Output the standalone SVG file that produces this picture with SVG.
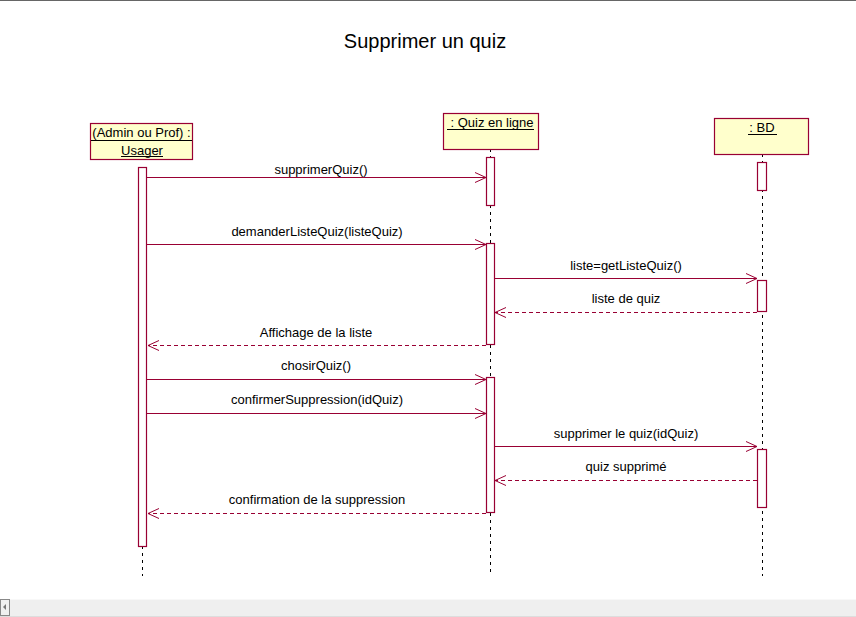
<svg xmlns="http://www.w3.org/2000/svg" width="856" height="617" viewBox="0 0 856 617">
<defs>
<marker id="arr" markerWidth="14" markerHeight="12" refX="12" refY="6" orient="auto" markerUnits="userSpaceOnUse">
<path d="M1,1 L12,6 L1,11" fill="none" stroke="#990033" stroke-width="1"/>
</marker>
</defs>
<style>
.box{fill:#ffffcc;stroke:#990033;stroke-width:1.2}
.act{fill:#ffffff;stroke:#990033;stroke-width:1.2}
.life{stroke:#000;stroke-width:1;stroke-dasharray:3,4}
.msg{stroke:#990033;stroke-width:1;fill:none}
.ret{stroke:#990033;stroke-width:1;fill:none;stroke-dasharray:4,3}
.t{font-family:"Liberation Sans",Arial,sans-serif;font-size:13px;fill:#000}
.ul{stroke:#000;stroke-width:1}
</style>
<rect width="856" height="617" fill="#ffffff"/>
<line x1="0" y1="0.5" x2="856" y2="0.5" stroke="#666" stroke-width="1"/>
<text x="425" y="48" text-anchor="middle" font-family="Liberation Sans,Arial,sans-serif" font-size="20">Supprimer un quiz</text>

<g id="lifelines">
<line class="life" x1="142.5" y1="546" x2="142.5" y2="576"/>
<line class="life" x1="490.5" y1="149" x2="490.5" y2="576"/>
<line class="life" x1="762.5" y1="154" x2="762.5" y2="576"/>
</g>

<g id="usager">
<rect class="box" x="90.5" y="123.5" width="102" height="36"/>
<text class="t" x="141.5" y="137" text-anchor="middle">(Admin ou Prof) :</text>
<line class="ul" x1="91" y1="140.5" x2="192" y2="140.5"/>
<text class="t" x="142" y="155" text-anchor="middle">Usager</text>
<line class="ul" x1="121" y1="156.5" x2="163" y2="156.5"/>
<rect class="act" x="138.5" y="167.5" width="8" height="379"/>
</g>

<g id="quiz">
<rect class="box" x="443.5" y="113.5" width="95" height="36"/>
<text class="t" x="492" y="127" text-anchor="middle"> : Quiz en ligne</text>
<line class="ul" x1="447" y1="129.5" x2="534" y2="129.5"/>
<rect class="act" x="486.5" y="157.5" width="8" height="48"/>
<rect class="act" x="486.5" y="243.5" width="8" height="101"/>
<rect class="act" x="486.5" y="377.5" width="8" height="135"/>
</g>

<g id="bd">
<rect class="box" x="714.5" y="118.5" width="94" height="36"/>
<text class="t" x="762" y="132" text-anchor="middle">: BD</text>
<line class="ul" x1="748" y1="134.5" x2="777" y2="134.5"/>
<rect class="act" x="757.5" y="162.5" width="9" height="28"/>
<rect class="act" x="757.5" y="280.5" width="9" height="31"/>
<rect class="act" x="757.5" y="449.5" width="9" height="58"/>
</g>

<g id="connectors">
<line class="msg" x1="147" y1="177.5" x2="486" y2="177.5" marker-end="url(#arr)"/>
<text class="t" x="321" y="174" text-anchor="middle">supprimerQuiz()</text>
<line class="msg" x1="147" y1="244.5" x2="486" y2="244.5" marker-end="url(#arr)"/>
<text class="t" x="317" y="236" text-anchor="middle">demanderListeQuiz(listeQuiz)</text>
<line class="msg" x1="495" y1="278.5" x2="757" y2="278.5" marker-end="url(#arr)"/>
<text class="t" x="626" y="270" text-anchor="middle">liste=getListeQuiz()</text>
<line class="ret" x1="757" y1="312.5" x2="495" y2="312.5" marker-end="url(#arr)"/>
<text class="t" x="626" y="303" text-anchor="middle">liste de quiz</text>
<line class="ret" x1="486" y1="345.5" x2="148" y2="345.5" marker-end="url(#arr)"/>
<text class="t" x="316" y="337" text-anchor="middle">Affichage de la liste</text>
<line class="msg" x1="147" y1="379.5" x2="486" y2="379.5" marker-end="url(#arr)"/>
<text class="t" x="316" y="370" text-anchor="middle">chosirQuiz()</text>
<line class="msg" x1="147" y1="413.5" x2="486" y2="413.5" marker-end="url(#arr)"/>
<text class="t" x="317" y="404" text-anchor="middle">confirmerSuppression(idQuiz)</text>
<line class="msg" x1="495" y1="446.5" x2="757" y2="446.5" marker-end="url(#arr)"/>
<text class="t" x="626" y="438" text-anchor="middle">supprimer le quiz(idQuiz)</text>
<line class="ret" x1="757" y1="480.5" x2="495" y2="480.5" marker-end="url(#arr)"/>
<text class="t" x="626" y="471" text-anchor="middle">quiz supprimé</text>
<line class="ret" x1="486" y1="513.5" x2="148" y2="513.5" marker-end="url(#arr)"/>
<text class="t" x="317" y="504" text-anchor="middle">confirmation de la suppression</text>
</g>

<g id="scrollbar">
<rect x="0" y="599" width="856" height="18" fill="#efefef"/>
<line x1="0" y1="599.5" x2="856" y2="599.5" stroke="#f8f8f8"/>
<rect x="0.5" y="599.5" width="9" height="16" fill="#f0f0f0" stroke="#888"/>
<path d="M3,607 L6,604 L6,610 Z" fill="#777"/>
<line x1="0" y1="616.5" x2="856" y2="616.5" stroke="#ddd"/>
</g>
</svg>
